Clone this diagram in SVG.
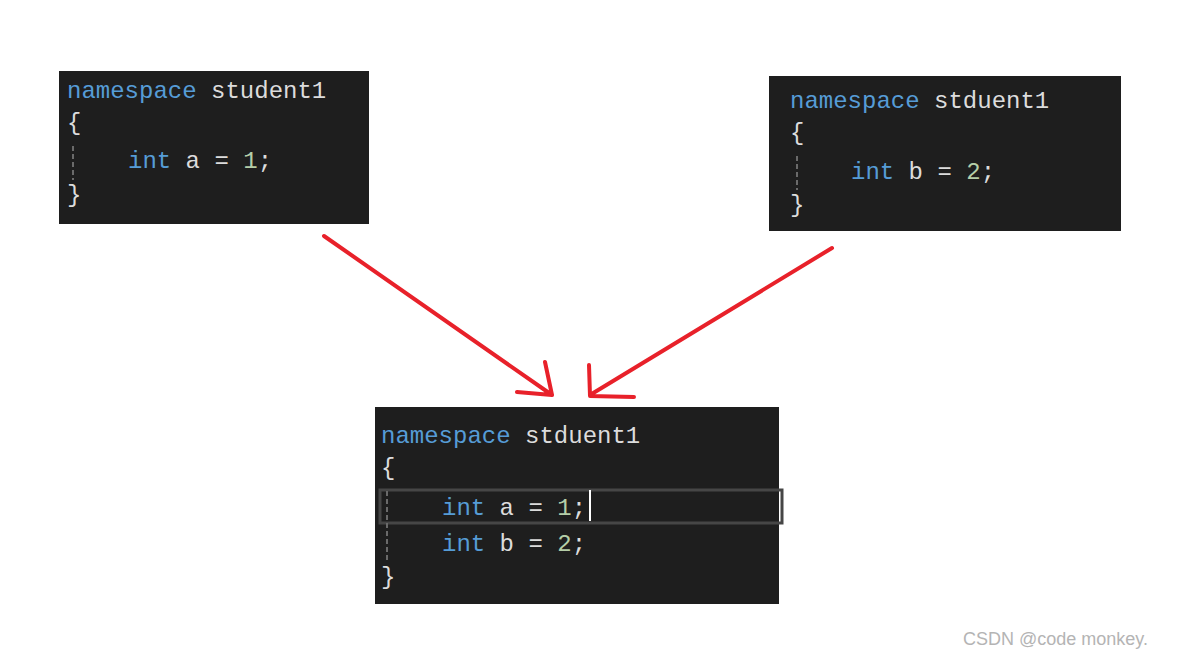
<svg xmlns="http://www.w3.org/2000/svg" width="1200" height="657" viewBox="0 0 1200 657">
<style>
.box{fill:#1e1e1e}
text.c{font-family:"Liberation Mono",monospace;font-size:24px;fill:#dcdcdc}
.k{fill:#569cd6}.n{fill:#b5cea8}.b{fill:#a0a0a0}
.g{stroke:#6a6a6a;stroke-width:2;stroke-dasharray:5,3}
.a{fill:none;stroke:#e8212a;stroke-width:4;stroke-linecap:round;stroke-linejoin:round}
</style>
<rect width="1200" height="657" fill="#fff"/>
<g id="node1">
<rect class="box" x="59" y="71" width="310" height="153"/>
<line class="g" x1="73" y1="146" x2="73" y2="180"/>
<text class="c" x="67" y="98"><tspan class="k">namespace</tspan> student1</text>
<text class="c b" x="67" y="130">{</text>
<text class="c" x="128" y="168"><tspan class="k">int</tspan> a = <tspan class="n">1</tspan>;</text>
<text class="c b" x="67" y="202">}</text>
</g>
<g id="node2">
<rect class="box" x="769" y="76" width="352" height="155"/>
<line class="g" x1="797" y1="156" x2="797" y2="190"/>
<text class="c" x="790" y="108"><tspan class="k">namespace</tspan> stduent1</text>
<text class="c b" x="790" y="140">{</text>
<text class="c" x="851" y="179"><tspan class="k">int</tspan> b = <tspan class="n">2</tspan>;</text>
<text class="c b" x="790" y="212">}</text>
</g>
<g id="node3">
<rect class="box" x="375" y="407" width="404" height="197"/>
<rect x="380" y="490" width="402" height="33" fill="none" stroke="#464646" stroke-width="3"/>
<line class="g" x1="387" y1="491" x2="387" y2="560"/>
<line x1="590" y1="490" x2="590" y2="521" stroke="#fff" stroke-width="2"/>
<text class="c" x="381" y="443"><tspan class="k">namespace</tspan> stduent1</text>
<text class="c b" x="381" y="475">{</text>
<text class="c" x="442" y="515"><tspan class="k">int</tspan> a = <tspan class="n">1</tspan>;</text>
<text class="c" x="442" y="551"><tspan class="k">int</tspan> b = <tspan class="n">2</tspan>;</text>
<text class="c b" x="381" y="584">}</text>
</g>
<g id="connectors">
<path class="a" d="M324 236 L552 395 M517 392 L552 395 L545 362"/>
<path class="a" d="M832 248 L590 395 M589 365 L590 396 L634 397"/>
</g>
<text x="963" y="645" font-family="Liberation Sans,sans-serif" font-size="18" fill="#b4b4b4">CSDN @code monkey.</text>
</svg>
